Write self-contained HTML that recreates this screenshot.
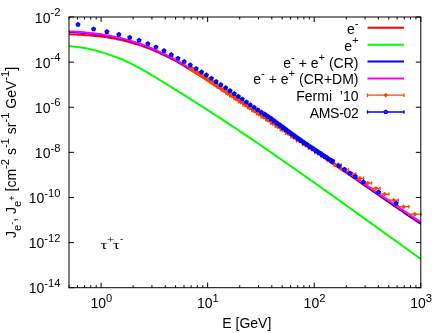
<!DOCTYPE html><html><head><meta charset="utf-8"><title>plot</title><style>html,body{margin:0;padding:0;background:#fff}svg{display:block;will-change:transform}text{font-family:"Liberation Sans",sans-serif;font-size:14px;fill:#000}.s{font-size:11.2px}.t{font-family:"Liberation Serif",serif}</style></head><body>
<svg width="446" height="333" viewBox="0 0 446 333">
<rect width="446" height="333" fill="#fff"/>
<defs><clipPath id="c"><rect x="69.00" y="17.00" width="351.80" height="270.70"/></clipPath></defs>
<path d="M69.00 287.70h5M420.80 287.70h-5M69.00 242.58h5M420.80 242.58h-5M69.00 197.47h5M420.80 197.47h-5M69.00 152.35h5M420.80 152.35h-5M69.00 107.23h5M420.80 107.23h-5M69.00 62.12h5M420.80 62.12h-5M69.00 17.00h5M420.80 17.00h-5M69.00 287.70v-2.5M69.00 17.00v2.5M77.44 287.70v-2.5M77.44 17.00v2.5M84.57 287.70v-2.5M84.57 17.00v2.5M90.75 287.70v-2.5M90.75 17.00v2.5M96.21 287.70v-2.5M96.21 17.00v2.5M101.08 287.70v-5.0M101.08 17.00v5.0M133.16 287.70v-2.5M133.16 17.00v2.5M151.93 287.70v-2.5M151.93 17.00v2.5M165.24 287.70v-2.5M165.24 17.00v2.5M175.57 287.70v-2.5M175.57 17.00v2.5M184.01 287.70v-2.5M184.01 17.00v2.5M191.15 287.70v-2.5M191.15 17.00v2.5M197.33 287.70v-2.5M197.33 17.00v2.5M202.78 287.70v-2.5M202.78 17.00v2.5M207.65 287.70v-5.0M207.65 17.00v5.0M239.74 287.70v-2.5M239.74 17.00v2.5M258.50 287.70v-2.5M258.50 17.00v2.5M271.82 287.70v-2.5M271.82 17.00v2.5M282.15 287.70v-2.5M282.15 17.00v2.5M290.58 287.70v-2.5M290.58 17.00v2.5M297.72 287.70v-2.5M297.72 17.00v2.5M303.90 287.70v-2.5M303.90 17.00v2.5M309.35 287.70v-2.5M309.35 17.00v2.5M314.23 287.70v-5.0M314.23 17.00v5.0M346.31 287.70v-2.5M346.31 17.00v2.5M365.08 287.70v-2.5M365.08 17.00v2.5M378.39 287.70v-2.5M378.39 17.00v2.5M388.72 287.70v-2.5M388.72 17.00v2.5M397.16 287.70v-2.5M397.16 17.00v2.5M404.29 287.70v-2.5M404.29 17.00v2.5M410.47 287.70v-2.5M410.47 17.00v2.5M415.92 287.70v-2.5M415.92 17.00v2.5M420.80 287.70v-5M420.80 17.00v5" stroke="#000" stroke-width="1" fill="none"/>
<g clip-path="url(#c)" fill="none" stroke-width="2" stroke-linejoin="round">
<path d="M69.00 34.30 L70.50 34.36 L72.00 34.42 L73.50 34.48 L75.00 34.54 L76.50 34.61 L78.00 34.69 L79.50 34.77 L81.00 34.85 L82.50 34.94 L84.00 35.04 L85.50 35.14 L87.00 35.25 L88.50 35.36 L90.00 35.49 L91.50 35.61 L93.00 35.75 L94.50 35.89 L96.00 36.03 L97.50 36.19 L99.00 36.35 L100.50 36.51 L102.00 36.69 L103.50 36.88 L105.00 37.09 L106.50 37.31 L108.00 37.54 L109.50 37.78 L111.00 38.04 L112.50 38.30 L114.00 38.57 L115.50 38.86 L117.00 39.15 L118.50 39.46 L120.00 39.77 L121.50 40.09 L123.00 40.44 L124.50 40.81 L126.00 41.19 L127.50 41.59 L129.00 42.00 L130.50 42.42 L132.00 42.85 L133.50 43.29 L135.00 43.73 L136.50 44.19 L138.00 44.66 L139.50 45.15 L141.00 45.65 L142.50 46.16 L144.00 46.69 L145.50 47.22 L147.00 47.78 L148.50 48.34 L150.00 48.92 L151.50 49.52 L153.00 50.16 L154.50 50.81 L156.00 51.48 L157.50 52.17 L159.00 52.85 L160.50 53.53 L162.00 54.22 L163.50 54.91 L165.00 55.61 L166.50 56.32 L168.00 57.04 L169.50 57.78 L171.00 58.54 L172.50 59.31 L174.00 60.11 L175.50 60.92 L177.00 61.75 L178.50 62.58 L180.00 63.42 L181.50 64.28 L183.00 65.17 L184.50 66.09 L186.00 67.08 L187.50 68.08 L189.00 69.02 L190.50 69.92 L192.00 70.81 L193.50 71.70 L195.00 72.61 L196.50 73.53 L198.00 74.45 L199.50 75.38 L201.00 76.31 L202.50 77.25 L204.00 78.19 L205.50 79.14 L207.00 80.08 L208.50 81.04 L210.00 81.99 L211.50 82.95 L213.00 83.91 L214.50 84.87 L216.00 85.84 L217.50 86.81 L219.00 87.78 L220.50 88.75 L222.00 89.73 L223.50 90.70 L225.00 91.68 L226.50 92.66 L228.00 93.64 L229.50 94.63 L231.00 95.61 L232.50 96.60 L234.00 97.58 L235.50 98.57 L237.00 99.56 L238.50 100.55 L240.00 101.54 L241.50 102.53 L243.00 103.53 L244.50 104.52 L246.00 105.51 L247.50 106.51 L249.00 107.51 L250.50 108.50 L252.00 109.50 L253.50 110.50 L255.00 111.49 L256.50 112.49 L258.00 113.49 L259.50 114.49 L261.00 115.49 L262.50 116.49 L264.00 117.50 L265.50 118.50 L267.00 119.50 L268.50 120.50 L270.00 121.50 L271.50 122.51 L273.00 123.51 L274.50 124.52 L276.00 125.52 L277.50 126.52 L279.00 127.53 L280.50 128.53 L282.00 129.54 L283.50 130.54 L285.00 131.55 L286.50 132.56 L288.00 133.56 L289.50 134.57 L291.00 135.58 L292.50 136.58 L294.00 137.59 L295.50 138.60 L297.00 139.60 L298.50 140.61 L300.00 141.62 L301.50 142.63 L303.00 143.63 L304.50 144.64 L306.00 145.65 L307.50 146.66 L309.00 147.66 L310.50 148.67 L312.00 149.68 L313.50 150.69 L315.00 151.70 L316.50 152.71 L318.00 153.72 L319.50 154.72 L321.00 155.73 L322.50 156.74 L324.00 157.75 L325.50 158.76 L327.00 159.77 L328.50 160.78 L330.00 161.79 L331.50 162.80 L333.00 163.81 L334.50 164.82 L336.00 165.83 L337.50 166.84 L339.00 167.85 L340.50 168.87 L342.00 169.88 L343.50 170.89 L345.00 171.92 L346.50 172.95 L348.00 173.98 L349.50 175.02 L351.00 176.05 L352.50 177.09 L354.00 178.13 L355.50 179.17 L357.00 180.21 L358.50 181.24 L360.00 182.28 L361.50 183.32 L363.00 184.36 L364.50 185.40 L366.00 186.43 L367.50 187.47 L369.00 188.51 L370.50 189.55 L372.00 190.59 L373.50 191.63 L375.00 192.66 L376.50 193.70 L378.00 194.74 L379.50 195.78 L381.00 196.81 L382.50 197.85 L384.00 198.89 L385.50 199.93 L387.00 200.97 L388.50 202.02 L390.00 203.06 L391.50 204.10 L393.00 205.14 L394.50 206.17 L396.00 207.20 L397.50 208.23 L399.00 209.25 L400.50 210.28 L402.00 211.29 L403.50 212.31 L405.00 213.33 L406.50 214.35 L408.00 215.37 L409.50 216.39 L411.00 217.40 L412.50 218.42 L414.00 219.43 L415.50 220.44 L417.00 221.45 L418.50 222.46 L420.80 224.01" stroke="#ff0000"/>
<path d="M69.00 46.10 L70.50 46.25 L72.00 46.40 L73.50 46.57 L75.00 46.75 L76.50 46.93 L78.00 47.13 L79.50 47.34 L81.00 47.55 L82.50 47.78 L84.00 48.02 L85.50 48.28 L87.00 48.57 L88.50 48.87 L90.00 49.18 L91.50 49.51 L93.00 49.87 L94.50 50.25 L96.00 50.66 L97.50 51.08 L99.00 51.51 L100.50 51.95 L102.00 52.40 L103.50 52.86 L105.00 53.34 L106.50 53.83 L108.00 54.33 L109.50 54.83 L111.00 55.34 L112.50 55.85 L114.00 56.36 L115.50 56.89 L117.00 57.44 L118.50 58.00 L120.00 58.60 L121.50 59.23 L123.00 59.88 L124.50 60.55 L126.00 61.24 L127.50 61.96 L129.00 62.69 L130.50 63.43 L132.00 64.19 L133.50 64.96 L135.00 65.75 L136.50 66.54 L138.00 67.33 L139.50 68.13 L141.00 68.94 L142.50 69.77 L144.00 70.61 L145.50 71.47 L147.00 72.35 L148.50 73.23 L150.00 74.13 L151.50 75.03 L153.00 75.94 L154.50 76.85 L156.00 77.77 L157.50 78.68 L159.00 79.59 L160.50 80.50 L162.00 81.41 L163.50 82.32 L165.00 83.24 L166.50 84.16 L168.00 85.08 L169.50 86.00 L171.00 86.93 L172.50 87.86 L174.00 88.79 L175.50 89.72 L177.00 90.66 L178.50 91.59 L180.00 92.53 L181.50 93.47 L183.00 94.42 L184.50 95.36 L186.00 96.31 L187.50 97.25 L189.00 98.20 L190.50 99.15 L192.00 100.10 L193.50 101.05 L195.00 102.00 L196.50 102.95 L198.00 103.91 L199.50 104.86 L201.00 105.82 L202.50 106.78 L204.00 107.74 L205.50 108.71 L207.00 109.67 L208.50 110.64 L210.00 111.61 L211.50 112.58 L213.00 113.55 L214.50 114.53 L216.00 115.50 L217.50 116.48 L219.00 117.45 L220.50 118.43 L222.00 119.41 L223.50 120.39 L225.00 121.37 L226.50 122.36 L228.00 123.34 L229.50 124.33 L231.00 125.31 L232.50 126.31 L234.00 127.30 L235.50 128.29 L237.00 129.29 L238.50 130.29 L240.00 131.30 L241.50 132.31 L243.00 133.32 L244.50 134.33 L246.00 135.34 L247.50 136.36 L249.00 137.37 L250.50 138.39 L252.00 139.41 L253.50 140.43 L255.00 141.45 L256.50 142.47 L258.00 143.50 L259.50 144.52 L261.00 145.55 L262.50 146.58 L264.00 147.60 L265.50 148.63 L267.00 149.67 L268.50 150.70 L270.00 151.73 L271.50 152.77 L273.00 153.80 L274.50 154.84 L276.00 155.88 L277.50 156.92 L279.00 157.95 L280.50 159.00 L282.00 160.04 L283.50 161.08 L285.00 162.12 L286.50 163.16 L288.00 164.21 L289.50 165.25 L291.00 166.30 L292.50 167.35 L294.00 168.39 L295.50 169.44 L297.00 170.49 L298.50 171.54 L300.00 172.59 L301.50 173.64 L303.00 174.70 L304.50 175.75 L306.00 176.81 L307.50 177.86 L309.00 178.92 L310.50 179.98 L312.00 181.04 L313.50 182.11 L315.00 183.17 L316.50 184.23 L318.00 185.30 L319.50 186.36 L321.00 187.43 L322.50 188.50 L324.00 189.56 L325.50 190.63 L327.00 191.70 L328.50 192.77 L330.00 193.84 L331.50 194.91 L333.00 195.98 L334.50 197.06 L336.00 198.13 L337.50 199.20 L339.00 200.27 L340.50 201.35 L342.00 202.42 L343.50 203.49 L345.00 204.57 L346.50 205.64 L348.00 206.71 L349.50 207.79 L351.00 208.86 L352.50 209.93 L354.00 211.01 L355.50 212.08 L357.00 213.15 L358.50 214.23 L360.00 215.30 L361.50 216.37 L363.00 217.45 L364.50 218.52 L366.00 219.59 L367.50 220.67 L369.00 221.74 L370.50 222.82 L372.00 223.90 L373.50 224.97 L375.00 226.05 L376.50 227.13 L378.00 228.21 L379.50 229.29 L381.00 230.36 L382.50 231.44 L384.00 232.52 L385.50 233.60 L387.00 234.68 L388.50 235.76 L390.00 236.84 L391.50 237.92 L393.00 239.00 L394.50 240.08 L396.00 241.16 L397.50 242.24 L399.00 243.32 L400.50 244.40 L402.00 245.48 L403.50 246.56 L405.00 247.64 L406.50 248.72 L408.00 249.80 L409.50 250.88 L411.00 251.96 L412.50 253.04 L414.00 254.11 L415.50 255.19 L417.00 256.27 L418.50 257.35 L420.80 259.00" stroke="#00ff00"/>
<path d="M69.00 31.90 L70.50 31.98 L72.00 32.06 L73.50 32.15 L75.00 32.24 L76.50 32.34 L78.00 32.44 L79.50 32.55 L81.00 32.66 L82.50 32.78 L84.00 32.91 L85.50 33.05 L87.00 33.19 L88.50 33.34 L90.00 33.49 L91.50 33.66 L93.00 33.83 L94.50 34.00 L96.00 34.18 L97.50 34.37 L99.00 34.57 L100.50 34.77 L102.00 34.98 L103.50 35.21 L105.00 35.45 L106.50 35.70 L108.00 35.96 L109.50 36.23 L111.00 36.52 L112.50 36.81 L114.00 37.12 L115.50 37.43 L117.00 37.75 L118.50 38.08 L120.00 38.41 L121.50 38.76 L123.00 39.13 L124.50 39.51 L126.00 39.91 L127.50 40.33 L129.00 40.76 L130.50 41.20 L132.00 41.65 L133.50 42.11 L135.00 42.57 L136.50 43.05 L138.00 43.54 L139.50 44.04 L141.00 44.56 L142.50 45.09 L144.00 45.63 L145.50 46.19 L147.00 46.76 L148.50 47.34 L150.00 47.94 L151.50 48.56 L153.00 49.20 L154.50 49.87 L156.00 50.56 L157.50 51.26 L159.00 51.95 L160.50 52.65 L162.00 53.35 L163.50 54.05 L165.00 54.76 L166.50 55.47 L168.00 56.21 L169.50 56.95 L171.00 57.72 L172.50 58.50 L174.00 59.30 L175.50 60.12 L177.00 60.94 L178.50 61.78 L180.00 62.62 L181.50 63.48 L183.00 64.37 L184.50 65.29 L186.00 66.28 L187.50 67.28 L189.00 68.22 L190.50 69.12 L192.00 70.01 L193.50 70.90 L195.00 71.81 L196.50 72.73 L198.00 73.65 L199.50 74.58 L201.00 75.51 L202.50 76.45 L204.00 77.39 L205.50 78.34 L207.00 79.28 L208.50 80.24 L210.00 81.19 L211.50 82.15 L213.00 83.11 L214.50 84.07 L216.00 85.04 L217.50 86.01 L219.00 86.98 L220.50 87.95 L222.00 88.93 L223.50 89.90 L225.00 90.88 L226.50 91.86 L228.00 92.84 L229.50 93.83 L231.00 94.81 L232.50 95.80 L234.00 96.78 L235.50 97.77 L237.00 98.76 L238.50 99.75 L240.00 100.74 L241.50 101.73 L243.00 102.73 L244.50 103.72 L246.00 104.71 L247.50 105.71 L249.00 106.71 L250.50 107.70 L252.00 108.70 L253.50 109.70 L255.00 110.69 L256.50 111.69 L258.00 112.69 L259.50 113.69 L261.00 114.69 L262.50 115.69 L264.00 116.70 L265.50 117.70 L267.00 118.70 L268.50 119.70 L270.00 120.70 L271.50 121.71 L273.00 122.71 L274.50 123.71 L276.00 124.72 L277.50 125.72 L279.00 126.73 L280.50 127.73 L282.00 128.74 L283.50 129.74 L285.00 130.75 L286.50 131.75 L288.00 132.76 L289.50 133.77 L291.00 134.77 L292.50 135.78 L294.00 136.79 L295.50 137.79 L297.00 138.80 L298.50 139.81 L300.00 140.82 L301.50 141.82 L303.00 142.83 L304.50 143.84 L306.00 144.85 L307.50 145.85 L309.00 146.86 L310.50 147.87 L312.00 148.88 L313.50 149.89 L315.00 150.90 L316.50 151.91 L318.00 152.91 L319.50 153.92 L321.00 154.93 L322.50 155.94 L324.00 156.95 L325.50 157.96 L327.00 158.97 L328.50 159.98 L330.00 160.99 L331.50 162.00 L333.00 163.01 L334.50 164.02 L336.00 165.04 L337.50 166.05 L339.00 167.07 L340.50 168.08 L342.00 169.10 L343.50 170.12 L345.00 171.15 L346.50 172.19 L348.00 173.23 L349.50 174.27 L351.00 175.32 L352.50 176.36 L354.00 177.41 L355.50 178.45 L357.00 179.50 L358.50 180.54 L360.00 181.59 L361.50 182.63 L363.00 183.68 L364.50 184.73 L366.00 185.77 L367.50 186.82 L369.00 187.86 L370.50 188.91 L372.00 189.96 L373.50 191.00 L375.00 192.05 L376.50 193.09 L378.00 194.13 L379.50 195.18 L381.00 196.22 L382.50 197.26 L384.00 198.31 L385.50 199.35 L387.00 200.40 L388.50 201.44 L390.00 202.49 L391.50 203.54 L393.00 204.58 L394.50 205.62 L396.00 206.65 L397.50 207.69 L399.00 208.72 L400.50 209.74 L402.00 210.77 L403.50 211.79 L405.00 212.81 L406.50 213.83 L408.00 214.85 L409.50 215.87 L411.00 216.89 L412.50 217.91 L414.00 218.93 L415.50 219.94 L417.00 220.95 L418.50 221.96 L420.80 223.51" stroke="#0000ff"/>
<path d="M69.00 31.30 L70.50 31.38 L72.00 31.46 L73.50 31.55 L75.00 31.65 L76.50 31.74 L78.00 31.85 L79.50 31.96 L81.00 32.08 L82.50 32.21 L84.00 32.34 L85.50 32.48 L87.00 32.63 L88.50 32.79 L90.00 32.95 L91.50 33.12 L93.00 33.29 L94.50 33.48 L96.00 33.66 L97.50 33.86 L99.00 34.06 L100.50 34.27 L102.00 34.49 L103.50 34.72 L105.00 34.97 L106.50 35.23 L108.00 35.50 L109.50 35.78 L111.00 36.07 L112.50 36.37 L114.00 36.68 L115.50 37.00 L117.00 37.33 L118.50 37.66 L120.00 38.00 L121.50 38.35 L123.00 38.72 L124.50 39.11 L126.00 39.52 L127.50 39.94 L129.00 40.37 L130.50 40.81 L132.00 41.27 L133.50 41.73 L135.00 42.20 L136.50 42.68 L138.00 43.17 L139.50 43.68 L141.00 44.20 L142.50 44.74 L144.00 45.28 L145.50 45.84 L147.00 46.42 L148.50 47.00 L150.00 47.60 L151.50 48.22 L153.00 48.87 L154.50 49.54 L156.00 50.23 L157.50 50.93 L159.00 51.63 L160.50 52.33 L162.00 53.03 L163.50 53.73 L165.00 54.45 L166.50 55.17 L168.00 55.90 L169.50 56.65 L171.00 57.41 L172.50 58.20 L174.00 59.00 L175.50 59.81 L177.00 60.64 L178.50 61.48 L180.00 62.32 L181.50 63.18 L183.00 64.07 L184.50 64.99 L186.00 65.98 L187.50 66.98 L189.00 67.92 L190.50 68.82 L192.00 69.71 L193.50 70.60 L195.00 71.51 L196.50 72.43 L198.00 73.35 L199.50 74.28 L201.00 75.21 L202.50 76.15 L204.00 77.09 L205.50 78.04 L207.00 78.98 L208.50 79.94 L210.00 80.89 L211.50 81.85 L213.00 82.81 L214.50 83.77 L216.00 84.74 L217.50 85.71 L219.00 86.68 L220.50 87.65 L222.00 88.63 L223.50 89.60 L225.00 90.58 L226.50 91.56 L228.00 92.54 L229.50 93.53 L231.00 94.51 L232.50 95.50 L234.00 96.48 L235.50 97.47 L237.00 98.46 L238.50 99.45 L240.00 100.44 L241.50 101.43 L243.00 102.43 L244.50 103.42 L246.00 104.41 L247.50 105.41 L249.00 106.41 L250.50 107.40 L252.00 108.40 L253.50 109.40 L255.00 110.39 L256.50 111.39 L258.00 112.39 L259.50 113.39 L261.00 114.39 L262.50 115.39 L264.00 116.39 L265.50 117.39 L267.00 118.39 L268.50 119.40 L270.00 120.40 L271.50 121.40 L273.00 122.40 L274.50 123.40 L276.00 124.41 L277.50 125.41 L279.00 126.41 L280.50 127.42 L282.00 128.42 L283.50 129.42 L285.00 130.43 L286.50 131.43 L288.00 132.44 L289.50 133.44 L291.00 134.45 L292.50 135.45 L294.00 136.45 L295.50 137.46 L297.00 138.46 L298.50 139.47 L300.00 140.47 L301.50 141.48 L303.00 142.49 L304.50 143.49 L306.00 144.50 L307.50 145.50 L309.00 146.51 L310.50 147.51 L312.00 148.52 L313.50 149.52 L315.00 150.53 L316.50 151.54 L318.00 152.54 L319.50 153.55 L321.00 154.55 L322.50 155.56 L324.00 156.56 L325.50 157.57 L327.00 158.58 L328.50 159.58 L330.00 160.59 L331.50 161.59 L333.00 162.60 L334.50 163.61 L336.00 164.61 L337.50 165.62 L339.00 166.62 L340.50 167.63 L342.00 168.63 L343.50 169.64 L345.00 170.66 L346.50 171.68 L348.00 172.71 L349.50 173.73 L351.00 174.76 L352.50 175.79 L354.00 176.81 L355.50 177.84 L357.00 178.87 L358.50 179.90 L360.00 180.92 L361.50 181.95 L363.00 182.98 L364.50 184.01 L366.00 185.03 L367.50 186.06 L369.00 187.09 L370.50 188.12 L372.00 189.14 L373.50 190.17 L375.00 191.20 L376.50 192.23 L378.00 193.25 L379.50 194.28 L381.00 195.31 L382.50 196.34 L384.00 197.36 L385.50 198.39 L387.00 199.42 L388.50 200.45 L390.00 201.48 L391.50 202.50 L393.00 203.52 L394.50 204.54 L396.00 205.56 L397.50 206.57 L399.00 207.58 L400.50 208.59 L402.00 209.60 L403.50 210.60 L405.00 211.61 L406.50 212.61 L408.00 213.62 L409.50 214.63 L411.00 215.63 L412.50 216.64 L414.00 217.65 L415.50 218.65 L417.00 219.66 L418.50 220.67 L420.80 222.21" stroke="#ff00ff"/>
</g>
<path d="M189.80 68.70H193.09M189.80 67.00v3.4M193.09 67.00v3.4M193.09 70.81H196.15M193.09 69.11v3.4M196.15 69.11v3.4M196.15 72.98H199.58M196.15 71.28v3.4M199.58 71.28v3.4M199.58 75.18H202.78M199.58 73.48v3.4M202.78 73.48v3.4M202.78 77.40H206.24M202.78 75.70v3.4M206.24 75.70v3.4M206.24 79.78H209.91M206.24 78.08v3.4M209.91 78.08v3.4M209.91 82.14H213.31M209.91 80.44v3.4M213.31 80.44v3.4M213.31 84.59H217.24M213.31 82.89v3.4M217.24 82.89v3.4M217.24 87.24H221.20M217.24 85.54v3.4M221.20 85.54v3.4M221.20 90.03H225.49M221.20 88.33v3.4M225.49 88.33v3.4M225.49 92.92H229.70M225.49 91.22v3.4M229.70 91.22v3.4M229.70 95.75H233.82M229.70 94.05v3.4M233.82 94.05v3.4M233.82 98.66H238.33M233.82 96.96v3.4M238.33 96.96v3.4M238.33 101.68H242.87M238.33 99.98v3.4M242.87 99.98v3.4M242.87 104.68H247.40M242.87 102.98v3.4M247.40 102.98v3.4M247.40 107.67H251.88M247.40 105.97v3.4M251.88 105.97v3.4M251.88 110.67H256.45M251.88 108.97v3.4M256.45 108.97v3.4M256.45 113.71H261.05M256.45 112.01v3.4M261.05 112.01v3.4M261.05 116.76H265.64M261.05 115.06v3.4M265.64 115.06v3.4M265.64 119.86H270.41M265.64 118.16v3.4M270.41 118.16v3.4M270.41 123.05H275.27M270.41 121.35v3.4M275.27 121.35v3.4M275.27 126.32H280.26M275.27 124.62v3.4M280.26 124.62v3.4M280.26 129.69H285.45M280.26 127.99v3.4M285.45 127.99v3.4M285.45 133.22H290.89M285.45 131.52v3.4M290.89 131.52v3.4M290.89 136.88H296.51M290.89 135.18v3.4M296.51 135.18v3.4M296.51 140.69H302.37M296.51 138.99v3.4M302.37 138.99v3.4M302.37 144.59H308.36M302.37 142.89v3.4M308.36 142.89v3.4M308.36 148.57H314.69M308.36 146.87v3.4M314.69 146.87v3.4M314.69 152.62H321.10M314.69 150.92v3.4M321.10 150.92v3.4M321.10 156.64H327.43M321.10 154.94v3.4M327.43 154.94v3.4M327.43 160.74H334.21M327.43 159.04v3.4M334.21 159.04v3.4M334.21 165.12H341.43M334.21 163.42v3.4M341.43 163.42v3.4M341.43 169.55H348.57M341.43 167.85v3.4M348.57 167.85v3.4M348.57 173.86H355.89M348.57 172.16v3.4M355.89 172.16v3.4M355.89 178.32H363.67M355.89 176.62v3.4M363.67 176.62v3.4M363.67 183.10H371.68M363.67 181.40v3.4M371.68 181.40v3.4M371.68 188.37H380.09M371.68 186.67v3.4M380.09 186.67v3.4M380.09 194.11H389.00M380.09 192.41v3.4M389.00 192.41v3.4M389.00 200.15H398.30M389.00 198.45v3.4M398.30 198.45v3.4M398.30 206.72H408.82M398.30 205.02v3.4M408.82 205.02v3.4M408.82 214.18H420.80M408.82 212.48v3.4M420.80 212.48v3.4" stroke="#ff4500" stroke-width="1.3" fill="none"/>
<g fill="#ff4500"><polygon points="191.45,65.85 194.30,68.70 191.45,71.55 188.60,68.70"/><polygon points="194.62,67.96 197.47,70.81 194.62,73.66 191.77,70.81"/><polygon points="197.87,70.13 200.72,72.98 197.87,75.83 195.02,72.98"/><polygon points="201.18,72.33 204.03,75.18 201.18,78.03 198.33,75.18"/><polygon points="204.51,74.55 207.36,77.40 204.51,80.25 201.66,77.40"/><polygon points="208.08,76.93 210.93,79.78 208.08,82.63 205.23,79.78"/><polygon points="211.61,79.29 214.46,82.14 211.61,84.99 208.76,82.14"/><polygon points="215.27,81.74 218.12,84.59 215.27,87.44 212.42,84.59"/><polygon points="219.22,84.39 222.07,87.24 219.22,90.09 216.37,87.24"/><polygon points="223.34,87.18 226.19,90.03 223.34,92.88 220.49,90.03"/><polygon points="227.59,90.07 230.44,92.92 227.59,95.77 224.74,92.92"/><polygon points="231.76,92.90 234.61,95.75 231.76,98.60 228.91,95.75"/><polygon points="236.07,95.81 238.92,98.66 236.07,101.51 233.22,98.66"/><polygon points="240.60,98.83 243.45,101.68 240.60,104.53 237.75,101.68"/><polygon points="245.13,101.83 247.98,104.68 245.13,107.53 242.28,104.68"/><polygon points="249.64,104.82 252.49,107.67 249.64,110.52 246.79,107.67"/><polygon points="254.17,107.82 257.02,110.67 254.17,113.52 251.32,110.67"/><polygon points="258.75,110.86 261.60,113.71 258.75,116.56 255.90,113.71"/><polygon points="263.35,113.91 266.20,116.76 263.35,119.61 260.50,116.76"/><polygon points="268.02,117.01 270.87,119.86 268.02,122.71 265.17,119.86"/><polygon points="272.84,120.20 275.69,123.05 272.84,125.90 269.99,123.05"/><polygon points="277.76,123.47 280.61,126.32 277.76,129.17 274.91,126.32"/><polygon points="282.85,126.84 285.70,129.69 282.85,132.54 280.00,129.69"/><polygon points="288.17,130.37 291.02,133.22 288.17,136.07 285.32,133.22"/><polygon points="293.70,134.03 296.55,136.88 293.70,139.73 290.85,136.88"/><polygon points="299.44,137.84 302.29,140.69 299.44,143.54 296.59,140.69"/><polygon points="305.37,141.74 308.22,144.59 305.37,147.44 302.52,144.59"/><polygon points="311.53,145.72 314.38,148.57 311.53,151.42 308.68,148.57"/><polygon points="317.89,149.77 320.74,152.62 317.89,155.47 315.04,152.62"/><polygon points="324.26,153.79 327.11,156.64 324.26,159.49 321.41,156.64"/><polygon points="330.82,157.89 333.67,160.74 330.82,163.59 327.97,160.74"/><polygon points="337.82,162.27 340.67,165.12 337.82,167.97 334.97,165.12"/><polygon points="345.00,167.10 347.45,169.55 345.00,172.00 342.55,169.55"/><polygon points="352.23,171.41 354.68,173.86 352.23,176.31 349.78,173.86"/><polygon points="359.78,175.87 362.23,178.32 359.78,180.77 357.33,178.32"/><polygon points="367.67,180.65 370.12,183.10 367.67,185.55 365.22,183.10"/><polygon points="375.89,185.92 378.34,188.37 375.89,190.82 373.44,188.37"/><polygon points="384.54,191.66 386.99,194.11 384.54,196.56 382.09,194.11"/><polygon points="393.65,197.70 396.10,200.15 393.65,202.60 391.20,200.15"/><polygon points="403.56,204.27 406.01,206.72 403.56,209.17 401.11,206.72"/><polygon points="414.81,211.73 417.26,214.18 414.81,216.63 412.36,214.18"/></g>
<g fill="#0000ff"><polygon points="78.00,21.80 80.57,23.67 79.59,26.68 76.41,26.68 75.43,23.67"/><polygon points="93.60,26.40 96.17,28.27 95.19,31.28 92.01,31.28 91.03,28.27"/><polygon points="106.90,29.10 109.47,30.97 108.49,33.98 105.31,33.98 104.33,30.97"/><polygon points="118.80,31.80 121.37,33.67 120.39,36.68 117.21,36.68 116.23,33.67"/><polygon points="129.70,34.80 132.27,36.67 131.29,39.68 128.11,39.68 127.13,36.67"/><polygon points="139.10,37.70 141.67,39.57 140.69,42.58 137.51,42.58 136.53,39.57"/><polygon points="147.80,41.10 150.37,42.97 149.39,45.98 146.21,45.98 145.23,42.97"/><polygon points="155.90,44.40 158.47,46.27 157.49,49.28 154.31,49.28 153.33,46.27"/><polygon points="164.00,48.10 166.57,49.97 165.59,52.98 162.41,52.98 161.43,49.97"/><polygon points="171.30,52.10 173.87,53.97 172.89,56.98 169.71,56.98 168.73,53.97"/><polygon points="178.00,55.70 180.57,57.57 179.59,60.58 176.41,60.58 175.43,57.57"/><polygon points="184.20,58.90 186.77,60.77 185.79,63.78 182.61,63.78 181.63,60.77"/><polygon points="190.30,62.30 192.87,64.17 191.89,67.18 188.71,67.18 187.73,64.17"/><polygon points="196.20,65.90 198.77,67.77 197.79,70.78 194.61,70.78 193.63,67.77"/><polygon points="201.50,69.30 204.07,71.17 203.09,74.18 199.91,74.18 198.93,71.17"/><polygon points="206.40,72.30 208.97,74.17 207.99,77.18 204.81,77.18 203.83,74.17"/><polygon points="211.40,75.70 213.97,77.57 212.99,80.58 209.81,80.58 208.83,77.57"/><polygon points="216.10,79.00 218.67,80.87 217.69,83.88 214.51,83.88 213.53,80.87"/><polygon points="220.80,82.10 223.37,83.97 222.39,86.98 219.21,86.98 218.23,83.97"/><polygon points="225.70,85.10 228.27,86.97 227.29,89.98 224.11,89.98 223.13,86.97"/><polygon points="230.00,88.10 232.57,89.97 231.59,92.98 228.41,92.98 227.43,89.97"/><polygon points="234.30,91.10 236.87,92.97 235.89,95.98 232.71,95.98 231.73,92.97"/><polygon points="238.40,93.80 240.97,95.67 239.99,98.68 236.81,98.68 235.83,95.67"/><polygon points="242.30,96.40 244.87,98.27 243.89,101.28 240.71,101.28 239.73,98.27"/><polygon points="246.40,99.40 248.97,101.27 247.99,104.28 244.81,104.28 243.83,101.27"/><polygon points="250.20,102.20 252.77,104.07 251.79,107.08 248.61,107.08 247.63,104.07"/><polygon points="254.10,104.70 256.67,106.57 255.69,109.58 252.51,109.58 251.53,106.57"/><polygon points="257.70,107.20 260.27,109.07 259.29,112.08 256.11,112.08 255.13,109.07"/><polygon points="261.30,109.60 263.87,111.47 262.89,114.48 259.71,114.48 258.73,111.47"/><polygon points="264.70,111.45 267.51,113.49 266.43,116.79 262.97,116.79 261.89,113.49"/><polygon points="268.00,113.65 270.81,115.69 269.73,118.99 266.27,118.99 265.19,115.69"/><polygon points="271.00,115.65 273.81,117.69 272.73,120.99 269.27,120.99 268.19,117.69"/><polygon points="274.00,117.91 276.81,119.95 275.73,123.24 272.27,123.24 271.19,119.95"/><polygon points="277.00,120.13 279.81,122.17 278.73,125.47 275.27,125.47 274.19,122.17"/><polygon points="280.00,122.36 282.81,124.40 281.73,127.70 278.27,127.70 277.19,124.40"/><polygon points="283.00,124.58 285.81,126.62 284.73,129.92 281.27,129.92 280.19,126.62"/><polygon points="286.00,126.79 288.81,128.83 287.73,132.13 284.27,132.13 283.19,128.83"/><polygon points="289.00,129.00 291.81,131.03 290.73,134.33 287.27,134.33 286.19,131.03"/><polygon points="292.00,131.18 294.81,133.22 293.73,136.52 290.27,136.52 289.19,133.22"/><polygon points="295.00,133.34 297.81,135.38 296.73,138.68 293.27,138.68 292.19,135.38"/><polygon points="298.00,135.49 300.81,137.52 299.73,140.82 296.27,140.82 295.19,137.52"/><polygon points="301.00,137.60 303.81,139.64 302.73,142.94 299.27,142.94 298.19,139.64"/><polygon points="304.00,139.68 306.81,141.72 305.73,145.02 302.27,145.02 301.19,141.72"/><polygon points="307.00,141.73 309.81,143.77 308.73,147.07 305.27,147.07 304.19,143.77"/><polygon points="310.00,143.74 312.81,145.78 311.73,149.08 308.27,149.08 307.19,145.78"/><polygon points="313.00,145.73 315.81,147.77 314.73,151.07 311.27,151.07 310.19,147.77"/><polygon points="316.00,147.72 318.81,149.76 317.73,153.05 314.27,153.05 313.19,149.76"/><polygon points="319.00,149.70 321.81,151.74 320.73,155.04 317.27,155.04 316.19,151.74"/><polygon points="322.00,151.69 324.81,153.73 323.73,157.03 320.27,157.03 319.19,153.73"/><polygon points="325.00,153.68 327.81,155.71 326.73,159.01 323.27,159.01 322.19,155.71"/><polygon points="328.00,155.66 330.81,157.70 329.73,161.00 326.27,161.00 325.19,157.70"/><polygon points="331.00,157.65 333.81,159.68 332.73,162.98 329.27,162.98 328.19,159.68"/><polygon points="332.30,158.51 335.11,160.54 334.03,163.84 330.57,163.84 329.49,160.54"/><polygon points="338.80,163.05 341.37,164.92 340.39,167.94 337.21,167.94 336.23,164.92"/><polygon points="344.40,166.75 346.97,168.62 345.99,171.64 342.81,171.64 341.83,168.62"/><polygon points="349.90,170.38 352.47,172.25 351.49,175.27 348.31,175.27 347.33,172.25"/><polygon points="355.40,174.01 357.97,175.87 356.99,178.89 353.81,178.89 352.83,175.87"/><polygon points="363.40,179.28 365.97,181.15 364.99,184.17 361.81,184.17 360.83,181.15"/><polygon points="378.60,189.28 381.17,191.15 380.19,194.16 377.01,194.16 376.03,191.15"/><polygon points="396.20,200.56 398.77,202.42 397.79,205.44 394.61,205.44 393.63,202.42"/></g>
<g fill="#3434ff"><circle cx="78.00" cy="24.60" r="0.7"/><circle cx="93.60" cy="29.20" r="0.7"/><circle cx="106.90" cy="31.90" r="0.7"/><circle cx="118.80" cy="34.60" r="0.7"/><circle cx="129.70" cy="37.60" r="0.7"/><circle cx="139.10" cy="40.50" r="0.7"/><circle cx="147.80" cy="43.90" r="0.7"/><circle cx="155.90" cy="47.20" r="0.7"/><circle cx="164.00" cy="50.90" r="0.7"/><circle cx="171.30" cy="54.90" r="0.7"/><circle cx="178.00" cy="58.50" r="0.7"/><circle cx="184.20" cy="61.70" r="0.7"/><circle cx="190.30" cy="65.10" r="0.7"/><circle cx="344.40" cy="169.55" r="0.7"/><circle cx="349.90" cy="173.18" r="0.7"/><circle cx="355.40" cy="176.81" r="0.7"/><circle cx="363.40" cy="182.08" r="0.7"/><circle cx="378.60" cy="192.08" r="0.7"/><circle cx="396.20" cy="203.36" r="0.7"/></g>
<rect x="69.00" y="17.00" width="351.80" height="270.70" fill="none" stroke="#000" stroke-width="1"/>
<path d="M367.5 27.70H404.0" stroke="#ff0000" stroke-width="2"/>
<path d="M367.5 44.65H404.0" stroke="#00ff00" stroke-width="2"/>
<path d="M367.5 61.60H404.0" stroke="#0000ff" stroke-width="2"/>
<path d="M367.5 78.40H404.0" stroke="#ff00ff" stroke-width="2"/>
<path d="M367.5 95.20H404.0M367.5 93.50v3.4M404.0 93.50v3.4" stroke="#ff4500" stroke-width="1.3" fill="none"/>
<g fill="#ff4500"><polygon points="385.75,92.80 388.15,95.20 385.75,97.60 383.35,95.20"/></g>
<path d="M367.5 112.00H404.0M367.5 110.30v3.4M404.0 110.30v3.4" stroke="#0000ff" stroke-width="1.3" fill="none"/>
<g fill="#0000ff"><polygon points="385.75,109.40 388.22,111.20 387.28,114.10 384.22,114.10 383.28,111.20"/></g>
<circle cx="385.75" cy="112.10" r="0.8" fill="#5a5aff"/>
<text x="358.5" y="33.60" text-anchor="end">e<tspan class="s" dy="-6.9">-</tspan></text>
<text x="358.5" y="50.55" text-anchor="end">e<tspan class="s" dy="-6.9">+</tspan></text>
<text x="358.5" y="67.50" text-anchor="end">e<tspan class="s" dy="-6.9">-</tspan><tspan dy="6.9"> + e</tspan><tspan class="s" dy="-6.9">+</tspan><tspan dy="6.9"> (CR)</tspan></text>
<text x="358.5" y="84.30" text-anchor="end">e<tspan class="s" dy="-6.9">-</tspan><tspan dy="6.9"> + e</tspan><tspan class="s" dy="-6.9">+</tspan><tspan dy="6.9"> (CR+DM)</tspan></text>
<text x="358.5" y="101.10" text-anchor="end">Fermi&#160;&#160;&#8217;10</text>
<text x="358.5" y="117.90" text-anchor="end"><tspan letter-spacing="-0.3">AMS-02</tspan></text>
<text x="60.4" y="293.40" text-anchor="end">10<tspan class="s" dy="-6.5">-14</tspan></text>
<text x="60.4" y="248.28" text-anchor="end">10<tspan class="s" dy="-6.5">-12</tspan></text>
<text x="60.4" y="203.17" text-anchor="end">10<tspan class="s" dy="-6.5">-10</tspan></text>
<text x="60.4" y="158.05" text-anchor="end">10<tspan class="s" dy="-6.5">-8</tspan></text>
<text x="60.4" y="112.93" text-anchor="end">10<tspan class="s" dy="-6.5">-6</tspan></text>
<text x="60.4" y="67.82" text-anchor="end">10<tspan class="s" dy="-6.5">-4</tspan></text>
<text x="60.4" y="22.70" text-anchor="end">10<tspan class="s" dy="-6.5">-2</tspan></text>
<text x="101.38" y="308" text-anchor="middle">10<tspan class="s" dy="-6.5">0</tspan></text>
<text x="207.95" y="308" text-anchor="middle">10<tspan class="s" dy="-6.5">1</tspan></text>
<text x="314.53" y="308" text-anchor="middle">10<tspan class="s" dy="-6.5">2</tspan></text>
<text x="421.10" y="308" text-anchor="middle">10<tspan class="s" dy="-6.5">3</tspan></text>
<text x="246.8" y="327.7" text-anchor="middle">E [GeV]</text>
<text transform="translate(16.2 152.4) rotate(-90)" text-anchor="middle">J<tspan class="s" dy="4.5">e</tspan><tspan style="font-size:9px" dy="-5.5">-</tspan><tspan dy="1">, J</tspan><tspan class="s" dy="4.5">e</tspan><tspan style="font-size:9px" dy="-5.5">+</tspan><tspan dy="1"> [cm</tspan><tspan class="s" dy="-7.2">-2</tspan><tspan dy="7.2"> s</tspan><tspan class="s" dy="-7.2">-1</tspan><tspan dy="7.2"> sr</tspan><tspan class="s" dy="-7.2">-1</tspan><tspan dy="7.2"> GeV</tspan><tspan class="s" dy="-7.2">-1</tspan><tspan dy="7.2">]</tspan></text>
<text class="t" transform="translate(100.6 249.1) scale(1.2 0.93)">&#964;</text>
<text class="t s" transform="translate(106.9 243.4) scale(1.15 1)">+</text>
<text class="t" transform="translate(112.9 249.1) scale(1.2 0.93)">&#964;</text>
<text class="t s" transform="translate(120.2 242.0) scale(0.75 1)">-</text>
</svg></body></html>
